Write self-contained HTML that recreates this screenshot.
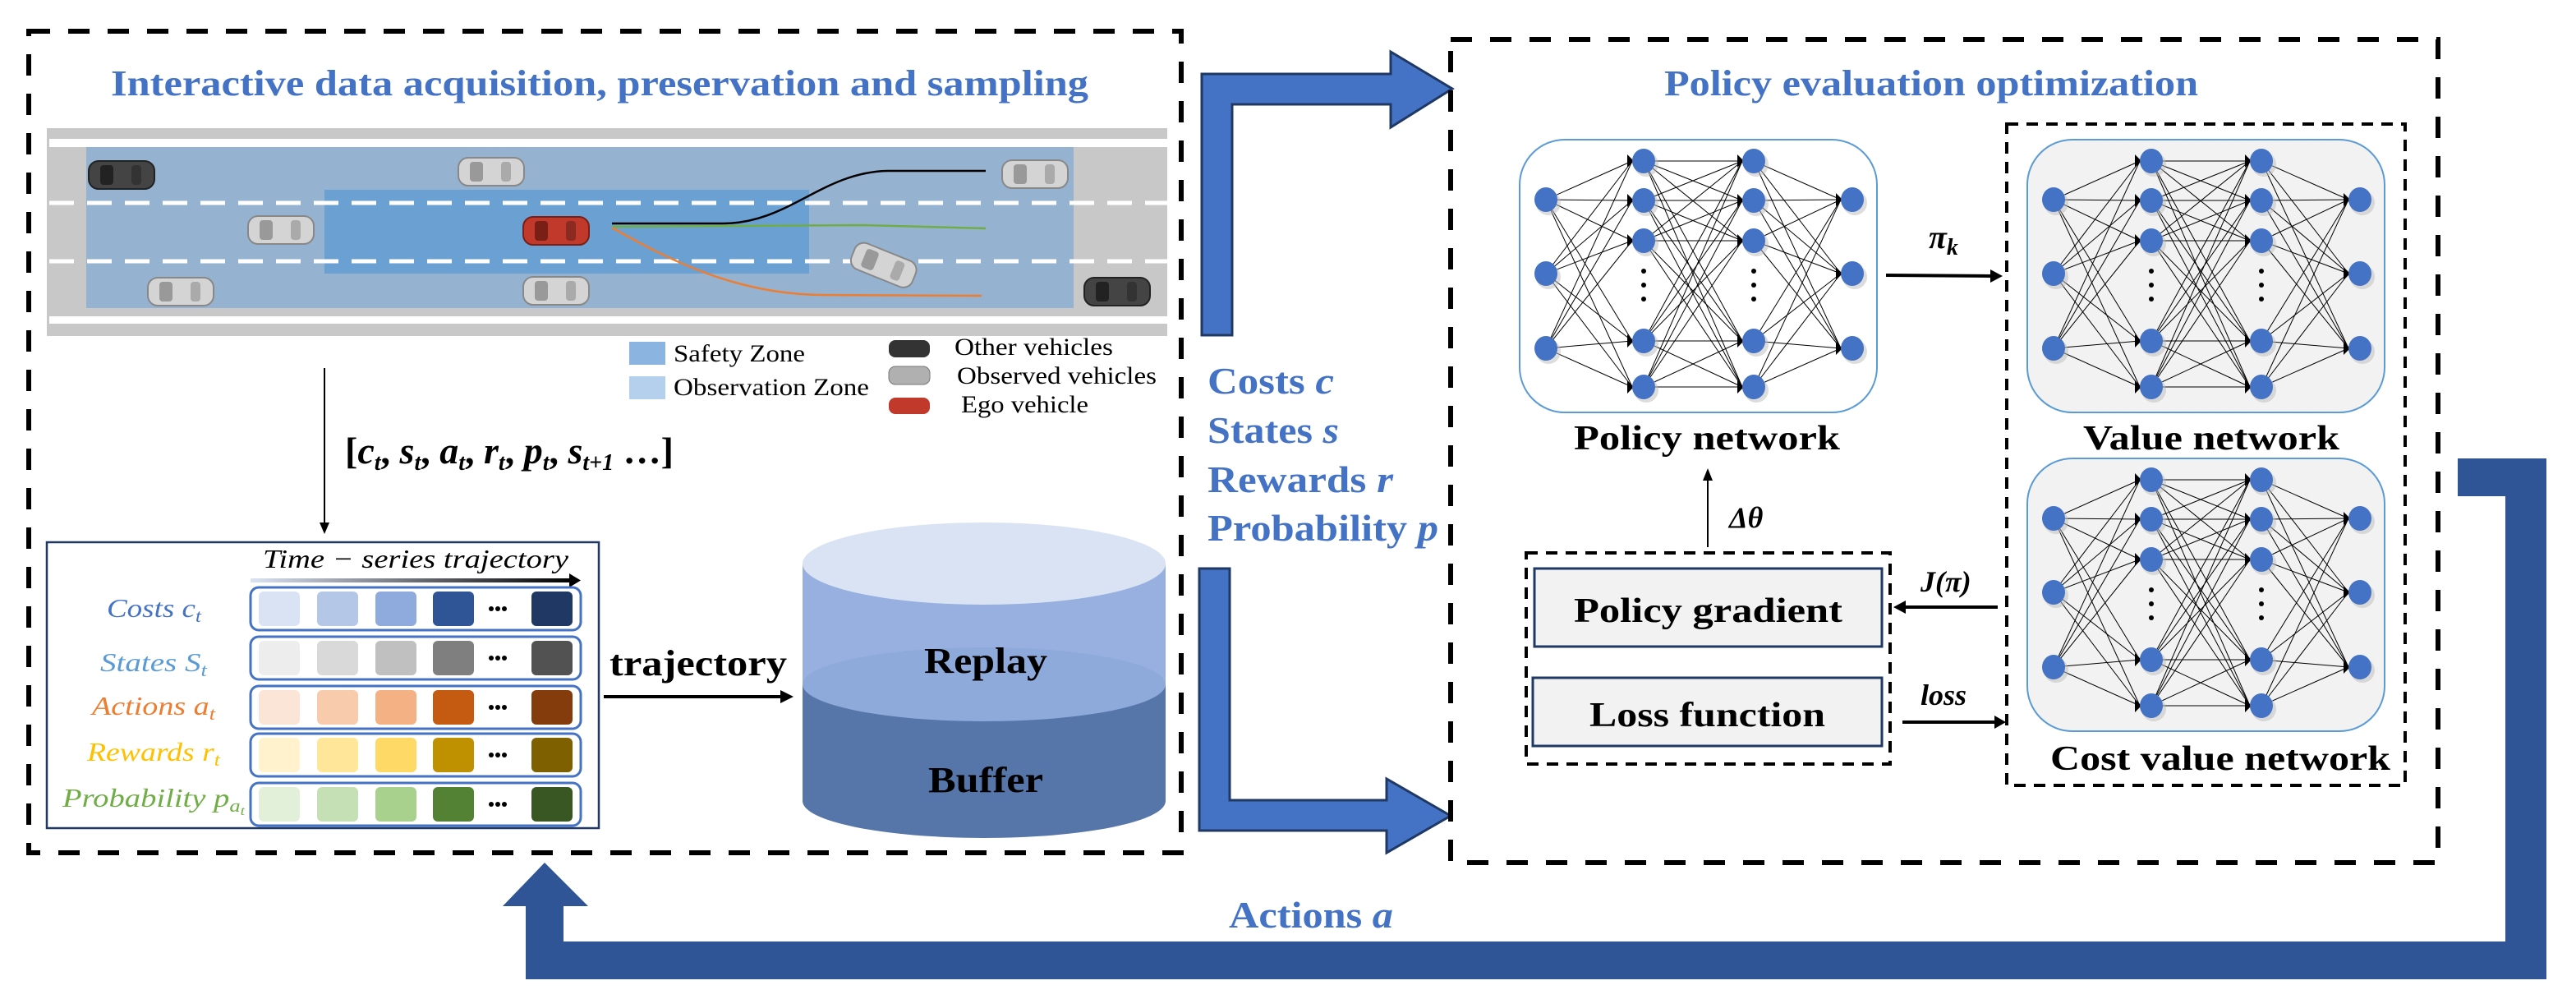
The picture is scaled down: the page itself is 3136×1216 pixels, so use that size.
<!DOCTYPE html>
<html><head><meta charset="utf-8"><style>
html,body{margin:0;padding:0;background:#fff}
svg{display:block}
text{font-family:"Liberation Serif",serif}
.b{font-weight:bold}
.bl{fill:#4472c4;font-weight:bold}
</style></head><body>
<svg id="s" width="3136" height="1216" viewBox="0 0 3136 1216" xmlns="http://www.w3.org/2000/svg">
<defs>
<linearGradient id="tg" x1="0" x2="1"><stop offset="0" stop-color="#dae3f3"/><stop offset="1" stop-color="#000"/></linearGradient>
<g id="car"><rect x="0" y="0" width="80" height="34" rx="12" fill="#d4d4d4" stroke="#888" stroke-width="2"/><rect x="14" y="5" width="16" height="24" rx="4" fill="#999"/><rect x="52" y="5" width="12" height="24" rx="4" fill="#aaa"/></g>
<g id="dcar"><rect x="0" y="0" width="80" height="34" rx="12" fill="#444" stroke="#222" stroke-width="2"/><rect x="14" y="5" width="16" height="24" rx="4" fill="#222"/><rect x="52" y="5" width="12" height="24" rx="4" fill="#333"/></g>
<g id="rcar"><rect x="0" y="0" width="80" height="34" rx="12" fill="#c0392b" stroke="#7a1f16" stroke-width="2"/><rect x="14" y="5" width="16" height="24" rx="4" fill="#7a1f16"/><rect x="52" y="5" width="12" height="24" rx="4" fill="#8a2a20"/></g>
</defs>

<rect x="35" y="38" width="1403" height="1000" fill="none" stroke="#000" stroke-width="6" stroke-dasharray="26 22"/>
<text x="135" y="116" font-size="44" class="bl" textLength="1190" lengthAdjust="spacingAndGlyphs">Interactive data acquisition, preservation and sampling</text>

<rect x="57" y="156" width="1364" height="253" fill="#c8c8c8"/>
<rect x="60" y="169" width="1361" height="10" fill="#fff"/>
<rect x="60" y="385" width="1361" height="9" fill="#fff"/>
<rect x="105" y="179" width="1202" height="196" fill="#95b3d0"/>
<rect x="395" y="231" width="590" height="102" fill="#6aa0d2"/>
<line x1="60" y1="247" x2="1421" y2="247" stroke="#fff" stroke-width="5" stroke-dasharray="30 16"/>
<line x1="60" y1="318" x2="1421" y2="318" stroke="#fff" stroke-width="5" stroke-dasharray="30 16"/>
<path d="M745,272 L880,272 C960,272 1000,210 1080,208 L1200,208" fill="none" stroke="#000" stroke-width="2.5"/>
<path d="M745,276 L1050,274 L1200,278" fill="none" stroke="#70ad47" stroke-width="2.5"/>
<path d="M745,277 C820,320 900,358 1000,359 L1195,360" fill="none" stroke="#ed7d31" stroke-width="2.5"/>
<use href="#dcar" x="108" y="196"/>
<use href="#car" x="558" y="192"/>
<use href="#car" x="1220" y="195"/>
<use href="#car" x="302" y="263"/>
<use href="#rcar" x="637" y="264"/>
<use href="#car" transform="translate(1045,292) rotate(22)"/>
<use href="#car" x="180" y="338"/>
<use href="#car" x="637" y="337"/>
<use href="#dcar" x="1320" y="338"/>

<rect x="766" y="416" width="44" height="28" fill="#8cb4e0"/>
<rect x="766" y="458" width="44" height="28" fill="#b4d0ec"/>
<text x="820" y="440" font-size="30" textLength="160" lengthAdjust="spacingAndGlyphs">Safety Zone</text>
<text x="820" y="481" font-size="30" textLength="238" lengthAdjust="spacingAndGlyphs">Observation Zone</text>
<rect x="1082" y="414" width="50" height="21" rx="8" fill="#333"/>
<rect x="1082" y="446" width="50" height="22" rx="8" fill="#b0b0b0" stroke="#777"/>
<rect x="1082" y="484" width="50" height="20" rx="8" fill="#c0392b"/>
<text x="1162" y="432" font-size="30" textLength="193" lengthAdjust="spacingAndGlyphs">Other vehicles</text>
<text x="1165" y="467" font-size="30" textLength="243" lengthAdjust="spacingAndGlyphs">Observed vehicles</text>
<text x="1170" y="502" font-size="30" textLength="155" lengthAdjust="spacingAndGlyphs">Ego vehicle</text>

<line x1="395" y1="448" x2="395" y2="640" stroke="#000" stroke-width="2"/>
<polygon points="389,636 401,636 395,650" fill="#000"/>
<text x="420" y="564" font-size="46" class="b">[<tspan font-style="italic">c</tspan><tspan font-size="28" dy="8" font-style="italic">t</tspan><tspan dy="-8">, </tspan><tspan font-style="italic">s</tspan><tspan font-size="28" dy="8" font-style="italic">t</tspan><tspan dy="-8">, </tspan><tspan font-style="italic">a</tspan><tspan font-size="28" dy="8" font-style="italic">t</tspan><tspan dy="-8">, </tspan><tspan font-style="italic">r</tspan><tspan font-size="28" dy="8" font-style="italic">t</tspan><tspan dy="-8">, </tspan><tspan font-style="italic">p</tspan><tspan font-size="28" dy="8" font-style="italic">t</tspan><tspan dy="-8">, </tspan><tspan font-style="italic">s</tspan><tspan font-size="28" dy="8" font-style="italic">t+1</tspan><tspan dy="-8"> …]</tspan></text>

<rect x="57" y="660" width="672" height="348" fill="#fff" stroke="#1f3864" stroke-width="2.5"/>
<text x="320" y="691" font-size="32" font-style="italic" textLength="372" lengthAdjust="spacingAndGlyphs">Time − series trajectory</text>
<rect x="305" y="704" width="390" height="5" fill="url(#tg)"/>
<polygon points="693,698 707,706.5 693,715" fill="#000"/>
<g id="rows"></g>
<text x="130" y="751" font-size="32" font-style="italic" fill="#4472c4" textLength="115" lengthAdjust="spacingAndGlyphs">Costs c<tspan font-size="22" dy="6">t</tspan></text>
<text x="122" y="817" font-size="32" font-style="italic" fill="#5b9bd5" textLength="130" lengthAdjust="spacingAndGlyphs">States S<tspan font-size="22" dy="6">t</tspan></text>
<text x="112" y="870" font-size="32" font-style="italic" fill="#ed7d31" textLength="150" lengthAdjust="spacingAndGlyphs">Actions a<tspan font-size="22" dy="6">t</tspan></text>
<text x="106" y="926" font-size="32" font-style="italic" fill="#ffc000" textLength="162" lengthAdjust="spacingAndGlyphs">Rewards r<tspan font-size="22" dy="6">t</tspan></text>
<text x="76" y="982" font-size="32" font-style="italic" fill="#70ad47" textLength="222" lengthAdjust="spacingAndGlyphs">Probability p<tspan font-size="22" dy="6">a</tspan><tspan font-size="16" dy="4">t</tspan></text>

<text x="742" y="822" font-size="44" class="b" textLength="216" lengthAdjust="spacingAndGlyphs">trajectory</text>
<line x1="735" y1="848" x2="952" y2="848" stroke="#000" stroke-width="4"/>
<polygon points="950,840 966,848 950,856" fill="#000"/>

<rect x="977" y="833" width="442" height="142" fill="#5675a9"/>
<ellipse cx="1198" cy="975" rx="221" ry="45" fill="#5675a9"/>
<rect x="977" y="686" width="442" height="147" fill="#97b0df"/>
<ellipse cx="1198" cy="833" rx="221" ry="45" fill="#8eaadb"/>
<ellipse cx="1198" cy="686" rx="221" ry="50" fill="#dae3f3"/>
<text x="1125" y="819" font-size="44" class="b" textLength="150" lengthAdjust="spacingAndGlyphs">Replay</text>
<text x="1130" y="964" font-size="44" class="b" textLength="140" lengthAdjust="spacingAndGlyphs">Buffer</text>

<polygon points="1463,408 1463,90 1693,90 1693,63 1768,108 1693,155 1693,127 1500,127 1500,408" fill="#4472c4" stroke="#1f3864" stroke-width="3"/>
<polygon points="1460,692 1497,692 1497,974 1688,974 1688,948 1766,993 1688,1038 1688,1011 1460,1011" fill="#4472c4" stroke="#1f3864" stroke-width="3"/>
<polygon points="3100,558 3100,1192 640,1192 640,1103 612,1103 663,1050 716,1103 686,1103 686,1146 3050,1146 3050,604 2992,604 2992,558" fill="#2f5597"/>
<text x="1470" y="479" font-size="46" class="bl" textLength="154" lengthAdjust="spacingAndGlyphs">Costs <tspan font-style="italic">c</tspan></text>
<text x="1470" y="539" font-size="46" class="bl" textLength="160" lengthAdjust="spacingAndGlyphs">States <tspan font-style="italic">s</tspan></text>
<text x="1470" y="599" font-size="46" class="bl" textLength="226" lengthAdjust="spacingAndGlyphs">Rewards <tspan font-style="italic">r</tspan></text>
<text x="1470" y="658" font-size="46" class="bl" textLength="281" lengthAdjust="spacingAndGlyphs">Probability <tspan font-style="italic">p</tspan></text>
<text x="1496" y="1129" font-size="46" class="bl" textLength="200" lengthAdjust="spacingAndGlyphs">Actions <tspan font-style="italic">a</tspan></text>

<rect x="1766" y="48" width="1202" height="1002" fill="none" stroke="#000" stroke-width="6" stroke-dasharray="26 22"/>
<text x="2026" y="116" font-size="44" class="bl" textLength="650" lengthAdjust="spacingAndGlyphs">Policy evaluation optimization</text>
<rect x="2443" y="151" width="485" height="805" fill="none" stroke="#000" stroke-width="4" stroke-dasharray="14 10"/>
<rect x="1850" y="170" width="435" height="332" rx="55" fill="#fff" stroke="#5b9bd5" stroke-width="2"/>
<rect x="2468" y="170" width="435" height="332" rx="55" fill="#f2f2f2" stroke="#5b9bd5" stroke-width="2"/>
<rect x="2468" y="558" width="435" height="332" rx="55" fill="#f2f2f2" stroke="#5b9bd5" stroke-width="2"/>
<g id="nets"></g>
<text x="1916" y="547" font-size="42" class="b" textLength="324" lengthAdjust="spacingAndGlyphs">Policy network</text>
<text x="2536" y="547" font-size="42" class="b" textLength="312" lengthAdjust="spacingAndGlyphs">Value network</text>
<text x="2496" y="937" font-size="42" class="b" textLength="414" lengthAdjust="spacingAndGlyphs">Cost value network</text>

<line x1="2296" y1="335" x2="2425" y2="336" stroke="#000" stroke-width="4"/>
<polygon points="2423,328 2438,336 2423,344" fill="#000"/>
<text x="2348" y="302" font-size="40" class="b" font-style="italic">π<tspan font-size="28" dy="8">k</tspan></text>

<line x1="2079" y1="666" x2="2079" y2="582" stroke="#000" stroke-width="2"/>
<polygon points="2073,585 2085,585 2079,570" fill="#000"/>
<text x="2105" y="642" font-size="36" class="b" font-style="italic">Δθ</text>

<rect x="1858" y="673" width="443" height="257" fill="none" stroke="#000" stroke-width="4" stroke-dasharray="14 10"/>
<rect x="1868" y="692" width="423" height="95" fill="#f2f2f2" stroke="#1f3864" stroke-width="3"/>
<rect x="1866" y="825" width="425" height="83" fill="#f2f2f2" stroke="#1f3864" stroke-width="3"/>
<text x="1916" y="757" font-size="42" class="b" textLength="327" lengthAdjust="spacingAndGlyphs">Policy gradient</text>
<text x="1935" y="884" font-size="42" class="b" textLength="287" lengthAdjust="spacingAndGlyphs">Loss function</text>

<line x1="2432" y1="739" x2="2318" y2="739" stroke="#000" stroke-width="4"/>
<polygon points="2320,731 2305,739 2320,747" fill="#000"/>
<text x="2338" y="720" font-size="36" class="b" font-style="italic">J(π)</text>
<line x1="2316" y1="879" x2="2430" y2="879" stroke="#000" stroke-width="4"/>
<polygon points="2428,871 2442,879 2428,887" fill="#000"/>
<text x="2338" y="858" font-size="36" class="b" font-style="italic">loss</text>
</svg>
<script>
var NS="http://www.w3.org/2000/svg";
function el(p,t,a){var e=document.createElementNS(NS,t);for(var k in a)e.setAttribute(k,a[k]);p.appendChild(e);return e;}
var rows=document.getElementById("rows");
var cols=[["#dae3f3","#b4c7e7","#8faadc","#2f5597","#1f3864"],["#ededed","#d9d9d9","#c0c0c0","#7f7f7f","#525252"],["#fbe5d6","#f8cbad","#f4b183","#c55a11","#843c0c"],["#fff2cc","#ffe699","#ffd966","#bf9000","#7f6000"],["#e2f0d9","#c5e0b4","#a9d18e","#548235","#385723"]];
var ry=[715,775,835,893,953];
var sx=[315,386,457,527,647];
for(var i=0;i<5;i++){
 el(rows,"rect",{x:305,y:ry[i],width:402,height:52,rx:10,fill:"#fff",stroke:"#4472c4","stroke-width":3});
 for(var j=0;j<5;j++)el(rows,"rect",{x:sx[j],y:ry[i]+5,width:50,height:42,rx:6,fill:cols[i][j]});
 for(var d=0;d<3;d++)el(rows,"circle",{cx:598+d*8,cy:ry[i]+26,r:3,fill:"#000"});
}
var nets=document.getElementById("nets");
var X=[32,151,285,405],Y1=[73,163,254],Y2=[26,74,123,245,301];
var L=[[X[0],Y1],[X[1],Y2],[X[2],Y2],[X[3],Y1]];
[[1850,170],[2468,170],[2468,558]].forEach(function(o){
 var g=el(nets,"g",{transform:"translate("+o[0]+","+o[1]+")"});
 for(var l=0;l<3;l++){var a=L[l],b=L[l+1];
  a[1].forEach(function(ya){b[1].forEach(function(yb){el(g,"line",{x1:a[0],y1:ya,x2:b[0]-14,y2:yb,stroke:"#000","stroke-width":1});});});
  b[1].forEach(function(yb){el(g,"polygon",{points:(b[0]-20)+","+(yb-8)+" "+(b[0]-12)+","+yb+" "+(b[0]-20)+","+(yb+8),fill:"#000"});});
 }
 L.forEach(function(c){c[1].forEach(function(y){el(g,"ellipse",{cx:c[0]+3,cy:y+4,rx:15,ry:15,fill:"#bbb",opacity:0.5});el(g,"ellipse",{cx:c[0],cy:y,rx:14,ry:15,fill:"#4472c4"});});});
 [X[1],X[2]].forEach(function(x){[160,177,194].forEach(function(y){el(g,"circle",{cx:x,cy:y,r:3,fill:"#000"});});});
});
</script>
</body></html>
